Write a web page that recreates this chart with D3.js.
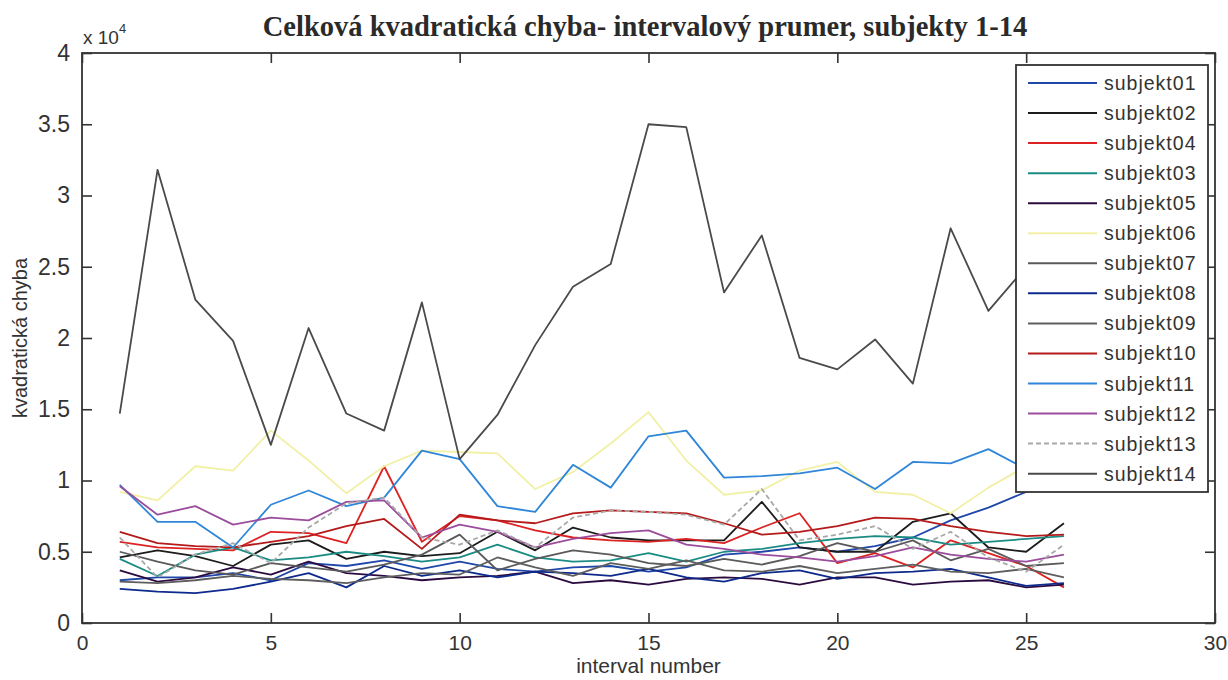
<!DOCTYPE html>
<html>
<head>
<meta charset="utf-8">
<script src="https://cdn.jsdelivr.net/npm/d3@7"></script>
<style>
  body { margin: 0; background: #fff; }
  svg text { fill: #333; }
</style>
</head>
<body>
<svg id="chart" width="1228" height="680"></svg>
<script>
// Interval numbers on the x axis
const intervals = d3.range(1, 27);

// Total squared error per interval for each subject
const subjekt01 = [3000, 3200, 3200, 3500, 3000, 4200, 4000, 4400, 3800, 4300, 3800, 3600, 3900, 4000, 3600, 3900, 4800, 5000, 5300, 5000, 5400, 6000, 7200, 8100, 9200, 10200];
const subjekt02 = [4600, 5100, 4700, 4000, 5500, 5800, 4500, 5000, 4700, 4900, 6400, 5100, 6700, 6000, 5800, 5800, 5800, 8500, 5300, 5000, 5000, 7100, 7700, 5300, 5000, 7000];
const subjekt04 = [5700, 5300, 5200, 5100, 6400, 6300, 5600, 11000, 5700, 7500, 7200, 6500, 6000, 5800, 5700, 5900, 5600, 6700, 7700, 4200, 4900, 3900, 5800, 4900, 4000, 2500];
const subjekt03 = [4500, 3300, 4800, 5300, 4400, 4600, 5000, 4700, 4300, 4600, 5500, 4600, 4300, 4400, 4900, 4300, 5000, 5200, 5600, 5900, 6100, 6000, 5500, 5700, 5900, 6100];
const subjekt05 = [3700, 2900, 3200, 3900, 3400, 4300, 3500, 3300, 3000, 3200, 3300, 3600, 2800, 3000, 2700, 3100, 3200, 3100, 2700, 3200, 3200, 2700, 2900, 3000, 2500, 2700];
const subjekt06 = [9200, 8600, 11000, 10700, 13500, 11400, 9100, 11000, 12100, 12000, 11900, 9400, 10600, 12600, 14800, 11400, 9000, 9300, 10700, 11300, 9200, 9000, 7700, 9500, 11000, 11500];
const subjekt07 = [5000, 4300, 3700, 3400, 4200, 3900, 3600, 4100, 4800, 6200, 3700, 4500, 5100, 4800, 4200, 4000, 4500, 4100, 4700, 5600, 5000, 5800, 4400, 5200, 4000, 4200];
const subjekt08 = [2400, 2200, 2100, 2400, 2900, 3500, 2500, 4000, 3300, 3700, 3200, 3600, 3500, 3300, 3800, 3200, 2900, 3500, 3700, 3100, 3500, 3600, 3800, 3200, 2600, 2800];
const subjekt09 = [2900, 2800, 3000, 3300, 3100, 3000, 2800, 3200, 3500, 3400, 4600, 3900, 3300, 4200, 3800, 4400, 3700, 3600, 4000, 3500, 3800, 4100, 3600, 3500, 3800, 3200];
const subjekt10 = [6400, 5600, 5400, 5300, 5700, 6100, 6800, 7300, 5200, 7600, 7200, 7000, 7700, 7900, 7800, 7700, 7000, 6200, 6400, 6800, 7400, 7300, 6800, 6400, 6100, 6200];
const subjekt11 = [9700, 7100, 7100, 5300, 8300, 9300, 8200, 8800, 12100, 11500, 8200, 7800, 11100, 9500, 13100, 13500, 10200, 10300, 10500, 10900, 9400, 11300, 11200, 12200, 10800, 11000];
const subjekt12 = [9600, 7600, 8200, 6900, 7400, 7200, 8500, 8600, 6000, 6900, 6400, 5300, 5900, 6300, 6500, 5500, 5200, 4800, 4600, 4300, 4700, 5300, 4800, 4500, 4300, 4800];
const subjekt13 = [6000, 3200, 4800, 5600, 4200, 6700, 8400, 8800, 6000, 5500, 6500, 5300, 7400, 7900, 7800, 7600, 6900, 9400, 5800, 6200, 6800, 5200, 6400, 4600, 3600, 5500];
const subjekt14 = [14700, 31800, 22700, 19800, 12500, 20700, 14700, 13500, 22500, 11500, 14600, 19500, 23600, 25200, 35000, 34800, 23200, 27200, 18600, 17800, 19900, 16800, 27700, 21900, 25000, 23500];

// Legend order and line colours
const seriesNames = ["subjekt01", "subjekt02", "subjekt04", "subjekt03", "subjekt05", "subjekt06", "subjekt07",
                     "subjekt08", "subjekt09", "subjekt10", "subjekt11", "subjekt12", "subjekt13", "subjekt14"];
const seriesValues = [subjekt01, subjekt02, subjekt04, subjekt03, subjekt05, subjekt06, subjekt07,
                      subjekt08, subjekt09, subjekt10, subjekt11, subjekt12, subjekt13, subjekt14];
const seriesColors = ["#1f48a8", "#1c1c1c", "#dc2222", "#1b8c84", "#2b0b3f", "#f1f0a6", "#5a5a5a",
                      "#0d2a8c", "#5e5e5e", "#b51a1a", "#2f86d8", "#9c4c9c", "#a8a8a8", "#4a4a4a"];
const seriesDash = [null, null, null, null, null, null, null, null, null, null, null, null, "5,3", null];

// Axis ticks
const xTicks = [0, 5, 10, 15, 20, 25, 30];
const yTicks = [0, 5000, 10000, 15000, 20000, 25000, 30000, 35000, 40000];
const yTickLabels = ["0", "0.5", "1", "1.5", "2", "2.5", "3", "3.5", "4"];

const svg = d3.select("#chart");
const plot = { left: 82, top: 53, right: 1215, bottom: 623 };

const x = d3.scaleLinear().domain([0, 30]).range([plot.left, plot.right]);
const y = d3.scaleLinear().domain([0, 40000]).range([plot.bottom, plot.top]);

const axisColor = "#333";
const tickLen = 10;
const sans = "'Liberation Sans', Arial, sans-serif";

// Lines
const line = d3.line()
  .x((d, i) => x(intervals[i]))
  .y(d => y(d));

const linesG = svg.append("g");
seriesValues.forEach((vals, k) => {
  linesG.append("path")
    .datum(vals)
    .attr("d", line)
    .attr("fill", "none")
    .attr("stroke", seriesColors[k])
    .attr("stroke-width", 1.8)
    .attr("stroke-linejoin", "round")
    .attr("stroke-dasharray", seriesDash[k]);
});

// Axis box
svg.append("rect")
  .attr("x", plot.left).attr("y", plot.top)
  .attr("width", plot.right - plot.left).attr("height", plot.bottom - plot.top)
  .attr("fill", "none").attr("stroke", axisColor).attr("stroke-width", 1.8);

// Inward ticks on all four sides
const xAxisB = d3.axisBottom(x).tickValues(xTicks).tickSizeInner(-tickLen).tickSizeOuter(0).tickPadding(12);
const xAxisT = d3.axisTop(x).tickValues(xTicks).tickSizeInner(-tickLen).tickSizeOuter(0).tickFormat("");
const yAxisL = d3.axisLeft(y).tickValues(yTicks).tickSizeInner(-tickLen).tickSizeOuter(0).tickPadding(12)
  .tickFormat((d, i) => yTickLabels[i]);
const yAxisR = d3.axisRight(y).tickValues(yTicks).tickSizeInner(-tickLen).tickSizeOuter(0).tickFormat("");

function styleAxis(g, fontSize) {
  g.select(".domain").remove();
  g.selectAll(".tick line").attr("stroke", axisColor).attr("stroke-width", 1.6);
  g.selectAll(".tick text")
    .attr("fill", "#333")
    .style("font-family", sans)
    .style("font-size", fontSize + "px");
}

svg.append("g").attr("transform", `translate(0,${plot.bottom})`).call(xAxisB).call(g => styleAxis(g, 21));
svg.append("g").attr("transform", `translate(0,${plot.top})`).call(xAxisT).call(g => styleAxis(g, 21));
svg.append("g").attr("transform", `translate(${plot.left},0)`).call(yAxisL).call(g => styleAxis(g, 23));
svg.append("g").attr("transform", `translate(${plot.right},0)`).call(yAxisR).call(g => styleAxis(g, 23));

// Exponent label
const expText = svg.append("text")
  .attr("x", plot.left + 1).attr("y", 44)
  .style("font-family", sans)
  .style("font-size", "19px");
expText.append("tspan").text("x 10");
expText.append("tspan").attr("dy", -11).style("font-size", "13px").text("4");

// Title
svg.append("text")
  .attr("x", 645).attr("y", 36)
  .attr("text-anchor", "middle")
  .style("font-family", "'Liberation Serif', 'Times New Roman', serif")
  .style("font-size", "28.5px")
  .style("font-weight", "bold")
  .style("fill", "#2a2a2a")
  .text("Celková kvadratická chyba- intervalový prumer, subjekty 1-14");

// Axis labels
svg.append("text")
  .attr("x", (plot.left + plot.right) / 2).attr("y", 673)
  .attr("text-anchor", "middle")
  .style("font-family", sans)
  .style("font-size", "21px")
  .text("interval number");

svg.append("text")
  .attr("transform", `translate(27,${(plot.top + plot.bottom) / 2}) rotate(-90)`)
  .attr("text-anchor", "middle")
  .style("font-family", sans)
  .style("font-size", "20px")
  .text("kvadratická chyba");

// Legend
const legend = { left: 1016, top: 65, right: 1208, bottom: 492, first: 83, step: 30.05 };
svg.append("rect")
  .attr("x", legend.left).attr("y", legend.top)
  .attr("width", legend.right - legend.left).attr("height", legend.bottom - legend.top)
  .attr("fill", "#fff").attr("stroke", axisColor).attr("stroke-width", 1.8);

const items = svg.append("g").selectAll("g").data(seriesNames).join("g")
  .attr("transform", (d, i) => `translate(0,${legend.first + i * legend.step})`);
items.append("line")
  .attr("x1", 1028).attr("x2", 1097).attr("y1", 0).attr("y2", 0)
  .attr("stroke", (d, i) => seriesColors[i])
  .attr("stroke-width", 2)
  .attr("stroke-dasharray", (d, i) => seriesDash[i]);
items.append("text")
  .attr("x", 1104).attr("y", 7)
  .style("font-family", sans)
  .style("font-size", "19.5px")
  .style("letter-spacing", "1px")
  .text(d => d);
</script>
</body>
</html>
